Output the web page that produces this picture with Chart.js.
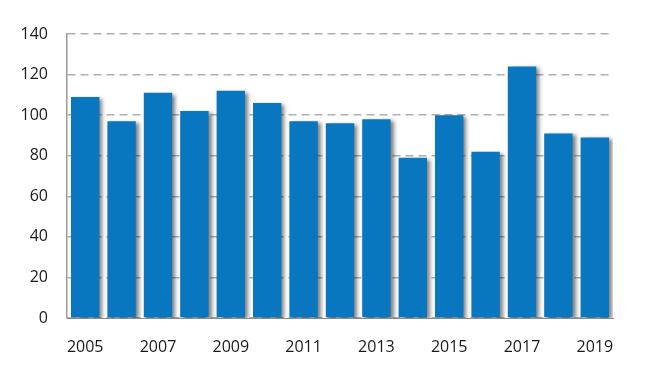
<!DOCTYPE html>
<html><head><meta charset="utf-8">
<script src="https://cdn.jsdelivr.net/npm/chart.js@4/dist/chart.umd.min.js"></script>
<style>html,body{margin:0;padding:0;background:#fff}#w{width:655px;height:389px}</style>
</head><body><div id="w"><canvas id="c"></canvas></div>
<script>
const years = ['2005','2006','2007','2008','2009','2010','2011','2012','2013','2014','2015','2016','2017','2018','2019'];
const values = [109, 97, 111, 102, 112, 106, 97, 96, 98, 79, 100, 82, 124, 91, 89];
const yTicks = [0, 20, 40, 60, 80, 100, 120, 140];

const shadowPlugin = {
  id: 'shadow',
  beforeDatasetsDraw(chart) {
    const ctx = chart.ctx; ctx.save();
    ctx.shadowColor = 'rgba(0,0,0,0.5)';
    ctx.shadowBlur = 4; ctx.shadowOffsetX = 3; ctx.shadowOffsetY = 2;
  },
  afterDatasetsDraw(chart) { chart.ctx.restore(); }
};

new Chart(document.getElementById('c'), {
  type: 'bar',
  data: { labels: years, datasets: [{ data: values, backgroundColor: '#0877bf', barPercentage: 0.78, categoryPercentage: 1.0 }] },
  plugins: [shadowPlugin],
  options: {
    responsive: true, maintainAspectRatio: false, animation: false,
    layout: { padding: { left: 0, right: 42, top: 34, bottom: 0 } },
    plugins: { legend: { display: false }, tooltip: { enabled: false } },
    scales: {
      x: {
        grid: { display: false },
        border: { display: true, color: '#8a8a8a', width: 1 },
        ticks: { color: '#1a1a1a', font: { family: 'Open Sans', size: 16 }, padding: 12, maxRotation: 0, autoSkip: false,
          callback: (v, i) => i % 2 === 0 ? years[i] : '' },
        afterFit: s => { s.height = 71; }
      },
      y: {
        min: 0, max: 140,
        afterBuildTicks: s => { s.ticks = yTicks.map(v => ({ value: v })); },
        grid: { color: '#b0b0b0', lineWidth: 1.5, drawTicks: false },
        border: { display: true, color: '#9a9a9a', dash: [8, 5], width: 1.5 },
        ticks: { color: '#1a1a1a', font: { family: 'Open Sans', size: 16 }, padding: 19 },
        afterFit: s => { s.width = 67; }
      }
    }
  }
});
</script></body></html>
